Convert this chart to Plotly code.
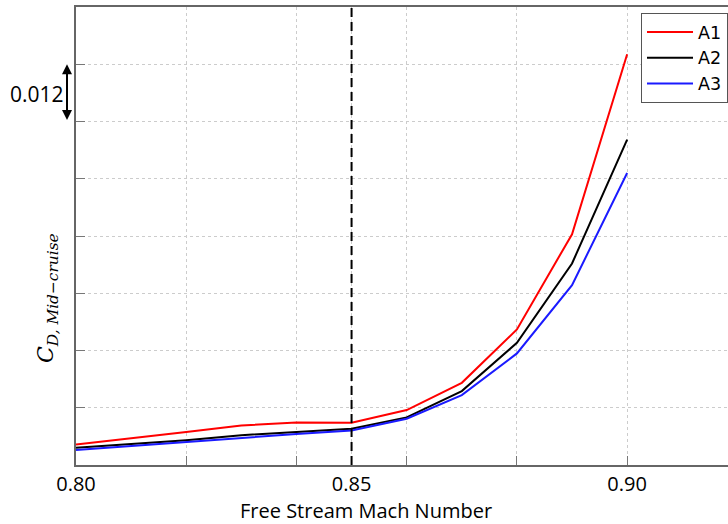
import plotly.graph_objects as go

mach = [0.80, 0.81, 0.82, 0.83, 0.84, 0.85, 0.86, 0.87, 0.88, 0.89, 0.90]
cd_a1 = [0.01630, 0.01754, 0.01891, 0.02027, 0.02090, 0.02086, 0.02352, 0.02923, 0.04042, 0.06037, 0.09808]
cd_a2 = [0.01560, 0.01636, 0.01720, 0.01825, 0.01898, 0.01960, 0.02198, 0.02749, 0.03761, 0.05424, 0.08021]
cd_a3 = [0.01514, 0.01598, 0.01681, 0.01776, 0.01849, 0.01922, 0.02170, 0.02666, 0.03539, 0.04969, 0.07321]
series_names = ["A1", "A2", "A3"]
series_colors = ["#ff0000", "#000000", "#1a1aff"]

x_tickvals = [0.80, 0.82, 0.84, 0.85, 0.86, 0.88, 0.90]
x_ticktext = ["0.80", "", "", "0.85", "", "", "0.90"]
y_tickvals = [0.012 * k for k in range(1, 10)]
design_mach = 0.85

fig = go.Figure()
for name, vals, col in zip(series_names, [cd_a1, cd_a2, cd_a3], series_colors):
    fig.add_trace(go.Scatter(x=mach, y=vals, mode="lines", name=name,
                             line=dict(color=col, width=2)))

fig.add_shape(type="line", xref="x", yref="paper", x0=design_mach, x1=design_mach,
              y0=0, y1=1, line=dict(color="black", width=2, dash="9px,5px"))

fig.update_xaxes(range=[0.80, 0.9183], tickvals=x_tickvals, ticktext=x_ticktext,
                 ticks="inside", ticklen=9, tickcolor="#777", showline=True,
                 linecolor="#666", linewidth=1.5, mirror=True,
                 showgrid=True, gridcolor="#cccccc", griddash="dot", gridwidth=1,
                 tickfont=dict(family="Open Sans", size=20, color="black"),
                 zeroline=False)
fig.update_yaxes(range=[0.012, 0.108], tickvals=y_tickvals, showticklabels=False,
                 ticks="inside", ticklen=9, tickcolor="#777", showline=True,
                 linecolor="#666", linewidth=1.5, mirror=False,
                 showgrid=True, gridcolor="#cccccc", griddash="dot", gridwidth=1,
                 zeroline=False)

fig.add_annotation(xref="paper", yref="paper", x=(366 - 76) / 652, y=-45 / 458,
                   text="Free Stream Mach Number", showarrow=False,
                   font=dict(family="Open Sans", size=20, color="black"),
                   xanchor="center", yanchor="middle")
fig.add_annotation(xref="paper", yref="paper", x=-29 / 652, y=(465 - 298) / 458,
                   text="<i>C</i><sub><i>D, Mid\u2212cruise</i></sub>", showarrow=False,
                   textangle=-90,
                   font=dict(family="DejaVu Serif", size=22, color="black"),
                   xanchor="center", yanchor="middle")
fig.add_annotation(xref="paper", yref="paper", x=-39 / 652, y=(465 - 94) / 458,
                   text="0.012", showarrow=False,
                   font=dict(family="Open Sans", size=21, color="black"),
                   xanchor="center", yanchor="middle")
fig.add_annotation(xref="paper", yref="y", x=-9 / 652, y=0.096,
                   axref="pixel", ayref="y", ax=0, ay=0.084,
                   text="", showarrow=True, arrowhead=2, arrowside="end+start",
                   arrowsize=1, arrowwidth=2, arrowcolor="black", standoff=0, startstandoff=0)

fig.update_layout(
    width=728, height=524,
    margin=dict(l=76, r=0, t=7, b=59),
    plot_bgcolor="white", paper_bgcolor="white",
    legend=dict(x=(641 - 76) / 652, y=(465 - 13) / 458, xanchor="left", yanchor="top",
                bgcolor="white", bordercolor="#555", borderwidth=1, itemwidth=46,
                font=dict(family="DejaVu Sans", size=17.5, color="black")),
)

fig.write_html("out.html", config={"displayModeBar": False},
               post_script="document.body.style.margin='0';")
